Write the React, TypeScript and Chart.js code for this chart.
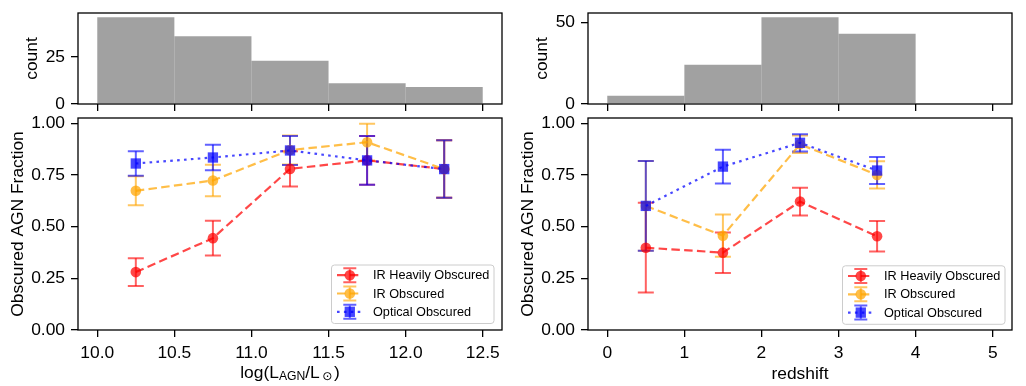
import React, { useEffect, useRef } from "react";
import { Chart, registerables } from "chart.js";

Chart.register(...registerables);

const FONT = "'Liberation Sans', Arial, 'DejaVu Sans', sans-serif";

// ---------- data ----------
const LUM_BIN_CENTERS = [10.25, 10.75, 11.25, 11.75, 12.25];
const LUM_COUNTS = [46, 36, 23, 11, 9];
const Z_BIN_CENTERS = [0.5, 1.5, 2.5, 3.5, 4.5];
const Z_COUNTS = [5, 24, 53, 43, 0];

const LUM_X = [10.25, 10.75, 11.25, 11.75, 12.25];
const LUM_IRH = [0.28, 0.444, 0.779, 0.82, 0.778];
const LUM_IRH_ERR = [0.067, 0.084, 0.085, 0.118, 0.139];
const LUM_IR = [0.673, 0.723, 0.87, 0.908, 0.778];
const LUM_IR_ERR = [0.07, 0.076, 0.07, 0.089, 0.139];
const LUM_OPT = [0.805, 0.834, 0.868, 0.82, 0.778];
const LUM_OPT_ERR = [0.059, 0.062, 0.07, 0.118, 0.139];

const Z_X = [0.5, 1.5, 2.5, 3.5];
const Z_IRH = [0.398, 0.374, 0.621, 0.453];
const Z_IRH_ERR = [0.217, 0.098, 0.067, 0.074];
const Z_IR = [0.6, 0.456, 0.898, 0.75];
const Z_IR_ERR = [0.217, 0.102, 0.042, 0.066];
const Z_OPT = [0.6, 0.79, 0.905, 0.771];
const Z_OPT_ERR = [0.217, 0.082, 0.042, 0.065];

const LUM_TICKS = [10.0, 10.5, 11.0, 11.5, 12.0, 12.5];
const Z_TICKS = [0, 1, 2, 3, 4, 5];
const FRAC_TICKS = [0, 0.25, 0.5, 0.75, 1.0];
const LUM_COUNT_TICKS = [0, 25];
const Z_COUNT_TICKS = [0, 50];

const SERIES_LABELS = ["IR Heavily Obscured", "IR Obscured", "Optical Obscured"];
const Y_LABEL_MAIN = "Obscured AGN Fraction";
const Y_LABEL_HIST = "count";
const X_LABEL_LUM = [
  { t: "log(L" },
  { t: "AGN", sub: true },
  { t: "/L" },
  { t: "\u2299", sub: true, gapBefore: 2.5, gapAfter: 1.5 },
  { t: ")" },
];
const X_LABEL_Z = [{ t: "redshift" }];

// ---------- styles ----------
const TICK_FONT_SIZE = 17.4;
const LEGEND_FONT_SIZE = 12.7;
const ALPHA = 0.72;
const SERIES_STYLE = [
  { rgb: "255,0,0", dash: [8.5, 4.3], point: "circle", radius: 5.3 },
  { rgb: "255,165,0", dash: [8.5, 4.3], point: "circle", radius: 5.3 },
  { rgb: "0,0,255", dash: [2.6, 4.3], point: "rect", radius: 7.3 },
];
const HIST_COLOR = "rgba(128,128,128,0.74)";

const zeroPad = (s: any) => {
  s.paddingTop = 0;
  s.paddingBottom = 0;
  s.paddingLeft = 0;
  s.paddingRight = 0;
};

const GRID = {
  display: true,
  drawOnChartArea: false,
  drawTicks: true,
  tickLength: 7,
  color: "#000",
  lineWidth: 1.3,
  offset: false,
};

function setTicks(values: number[]) {
  return (s: any) => {
    s.ticks = values.map((v) => ({ value: v }));
  };
}

function drawRich(ctx: CanvasRenderingContext2D, segs: any[], cx: number, baseY: number) {
  const big = `${TICK_FONT_SIZE}px ${FONT}`;
  const small = `${TICK_FONT_SIZE * 0.7}px ${FONT}`;
  let total = 0;
  const widths = segs.map((s) => {
    ctx.font = s.sub ? small : big;
    const w = ctx.measureText(s.t).width + (s.gapBefore || 0) + (s.gapAfter || 0);
    total += w;
    return w;
  });
  let x = cx - total / 2;
  ctx.textAlign = "left";
  ctx.textBaseline = "alphabetic";
  segs.forEach((s, i) => {
    ctx.font = s.sub ? small : big;
    ctx.fillText(s.t, x + (s.gapBefore || 0), baseY + (s.sub ? 2.6 : 0));
    x += widths[i];
  });
}

function drawMarker(ctx: CanvasRenderingContext2D, kind: string, r: number, x: number, y: number) {
  ctx.beginPath();
  if (kind === "rect") {
    const h = r * Math.SQRT1_2;
    ctx.rect(x - h, y - h, 2 * h, 2 * h);
  } else {
    ctx.arc(x, y, r, 0, Math.PI * 2);
  }
  ctx.fill();
}

const mplPlugin = {
  id: "mpl",
  beforeDatasetsDraw(chart: any) {
    const o = chart.options.plugins.mpl;
    if (!o || !o.errorBars) return;
    const ctx = chart.ctx;
    const xs = chart.scales.x;
    const ys = chart.scales.y;
    ctx.save();
    ctx.beginPath();
    ctx.rect(chart.chartArea.left, chart.chartArea.top, chart.chartArea.width, chart.chartArea.height);
    ctx.clip();
    chart.data.datasets.forEach((ds: any) => {
      if (!ds.errors) return;
      ctx.strokeStyle = ds.errColor;
      ctx.lineWidth = 2;
      ctx.setLineDash([]);
      ds.data.forEach((p: any, i: number) => {
        const x = xs.getPixelForValue(p.x);
        const yHi = ys.getPixelForValue(p.y + ds.errors[i]);
        const yLo = ys.getPixelForValue(p.y - ds.errors[i]);
        ctx.beginPath();
        ctx.moveTo(x, yHi);
        ctx.lineTo(x, yLo);
        ctx.stroke();
        ctx.beginPath();
        ctx.moveTo(x - 8, yHi);
        ctx.lineTo(x + 8, yHi);
        ctx.moveTo(x - 8, yLo);
        ctx.lineTo(x + 8, yLo);
        ctx.stroke();
      });
    });
    ctx.restore();
  },
  afterDatasetsDraw(chart: any) {
    const o = chart.options.plugins.mpl || {};
    const ctx = chart.ctx;
    const ca = chart.chartArea;
    ctx.save();
    ctx.strokeStyle = "#000";
    ctx.lineWidth = 1.3;
    ctx.setLineDash([]);
    ctx.strokeRect(ca.left, ca.top, ca.right - ca.left, ca.bottom - ca.top);
    if (o.legend) {
      const w = 162.5;
      const h = 58.5;
      const bx = ca.right - o.legend.right - w;
      const by = ca.bottom - o.legend.bottom - h;
      ctx.beginPath();
      ctx.roundRect(bx, by, w, h, 3);
      ctx.fillStyle = "rgba(255,255,255,0.8)";
      ctx.fill();
      ctx.strokeStyle = "#cccccc";
      ctx.lineWidth = 1;
      ctx.stroke();
      chart.data.datasets.forEach((ds: any, i: number) => {
        const cy = by + 10.2 + i * 18.3;
        const x0 = bx + 5.5;
        const x1 = bx + 31;
        const mx = bx + 18.3;
        ctx.strokeStyle = ds.borderColor;
        ctx.lineWidth = ds.borderWidth;
        ctx.setLineDash(ds.borderDash);
        ctx.beginPath();
        ctx.moveTo(x0, cy);
        ctx.lineTo(x1, cy);
        ctx.stroke();
        ctx.setLineDash([]);
        ctx.strokeStyle = ds.errColor;
        ctx.lineWidth = 2;
        ctx.beginPath();
        ctx.moveTo(mx, cy - 7);
        ctx.lineTo(mx, cy + 7);
        ctx.moveTo(mx - 6.5, cy - 7);
        ctx.lineTo(mx + 6.5, cy - 7);
        ctx.moveTo(mx - 6.5, cy + 7);
        ctx.lineTo(mx + 6.5, cy + 7);
        ctx.stroke();
        ctx.fillStyle = ds.pointBackgroundColor;
        drawMarker(ctx, ds.pointStyle, ds.pointRadius, mx, cy);
        ctx.fillStyle = "#000";
        ctx.font = `${LEGEND_FONT_SIZE}px ${FONT}`;
        ctx.textAlign = "left";
        ctx.textBaseline = "middle";
        ctx.fillText(ds.label, bx + 41.5, cy + 0.5);
      });
    }
    ctx.restore();
  },
  afterDraw(chart: any) {
    const o = chart.options.plugins.mpl || {};
    const ctx = chart.ctx;
    const ca = chart.chartArea;
    ctx.save();
    ctx.fillStyle = "#000";
    if (o.yTitle) {
      ctx.save();
      ctx.translate(ca.left - o.yTitle.offset, (ca.top + ca.bottom) / 2);
      ctx.rotate(-Math.PI / 2);
      ctx.font = `${TICK_FONT_SIZE}px ${FONT}`;
      ctx.textAlign = "center";
      ctx.textBaseline = "alphabetic";
      ctx.fillText(o.yTitle.text, 0, 0);
      ctx.restore();
    }
    if (o.xTitle) {
      drawRich(ctx, o.xTitle.segs, (ca.left + ca.right) / 2, ca.bottom + o.xTitle.offset);
    }
    ctx.restore();
  },
};

Chart.register(mplPlugin as any);

function baseScale(extra: any) {
  return {
    type: "linear",
    bounds: "data",
    offset: false,
    grid: GRID,
    border: { display: false },
    ...extra,
    ticks: {
      color: "#000",
      font: { family: FONT, size: TICK_FONT_SIZE },
      padding: 6,
      autoSkip: false,
      maxRotation: 0,
      minRotation: 0,
      ...(extra.ticks || {}),
    },
  };
}

function histConfig(
  centers: number[],
  counts: number[],
  xMin: number,
  xMax: number,
  xTicks: number[],
  yMax: number,
  yTicks: number[],
  padRight: number
): any {
  return {
    type: "bar",
    data: {
      datasets: [
        {
          data: centers.map((c, i) => ({ x: c, y: counts[i] })),
          backgroundColor: HIST_COLOR,
          borderWidth: 0,
          inflateAmount: 0,
          barPercentage: 1,
          categoryPercentage: 1,
        },
      ],
    },
    options: {
      responsive: false,
      animation: false,
      devicePixelRatio: 1,
      events: [],
      layout: { padding: { top: 13, right: padRight, bottom: 0, left: 0 } },
      plugins: {
        legend: { display: false },
        tooltip: { enabled: false },
        mpl: { yTitle: { text: Y_LABEL_HIST, offset: 40.7 } },
      },
      scales: {
        x: baseScale({
          min: xMin,
          max: xMax,
          ticks: { display: false },
          afterBuildTicks: setTicks(xTicks),
          afterFit: (s: any) => {
            s.height = 12;
            zeroPad(s);
          },
        }),
        y: baseScale({
          min: 0,
          max: yMax,
          ticks: { callback: (v: any) => String(v) },
          afterBuildTicks: setTicks(yTicks),
          afterFit: (s: any) => {
            s.width = 78;
            zeroPad(s);
          },
        }),
      },
    },
  };
}

function mainConfig(
  xs: number[],
  series: number[][],
  errors: number[][],
  xMin: number,
  xMax: number,
  xTicks: number[],
  xFmt: (v: number) => string,
  xTitle: any[],
  xTitleOffset: number,
  padRight: number,
  legendPos: { right: number; bottom: number }
): any {
  return {
    type: "line",
    data: {
      datasets: series.map((ys, k) => {
        const st = SERIES_STYLE[k];
        const col = `rgba(${st.rgb},${ALPHA})`;
        return {
          label: SERIES_LABELS[k],
          data: xs.map((x, i) => ({ x, y: ys[i] })),
          borderColor: col,
          borderWidth: 2.2,
          borderDash: st.dash,
          pointStyle: st.point,
          pointRadius: st.radius,
          pointBackgroundColor: col,
          pointBorderWidth: 0,
          pointHoverRadius: st.radius,
          fill: false,
          tension: 0,
          order: 3 - k,
          errors: errors[k],
          errColor: `rgba(${st.rgb},0.62)`,
        };
      }),
    },
    options: {
      responsive: false,
      animation: false,
      devicePixelRatio: 1,
      events: [],
      layout: { padding: { top: 12, right: padRight, bottom: 0, left: 0 } },
      plugins: {
        legend: { display: false },
        tooltip: { enabled: false },
        mpl: {
          errorBars: true,
          legend: legendPos,
          yTitle: { text: Y_LABEL_MAIN, offset: 55.3 },
          xTitle: { segs: xTitle, offset: xTitleOffset },
        },
      },
      scales: {
        x: baseScale({
          min: xMin,
          max: xMax,
          ticks: { callback: (v: any) => xFmt(Number(v)) },
          afterBuildTicks: setTicks(xTicks),
          afterFit: (s: any) => {
            s.height = 56;
            zeroPad(s);
          },
        }),
        y: baseScale({
          min: 0,
          max: 1.025,
          ticks: { callback: (v: any) => Number(v).toFixed(2) },
          afterBuildTicks: setTicks(FRAC_TICKS),
          afterFit: (s: any) => {
            s.width = 78;
            zeroPad(s);
          },
        }),
      },
    },
  };
}

export default function App() {
  const r1 = useRef<HTMLCanvasElement>(null);
  const r2 = useRef<HTMLCanvasElement>(null);
  const r3 = useRef<HTMLCanvasElement>(null);
  const r4 = useRef<HTMLCanvasElement>(null);

  useEffect(() => {
    Chart.defaults.font.family = FONT;
    Chart.defaults.color = "#000";
    const charts = [
      new Chart(
        r1.current!,
        histConfig(LUM_BIN_CENTERS, LUM_COUNTS, 9.875, 12.625, LUM_TICKS, 48.3, LUM_COUNT_TICKS, 8)
      ),
      new Chart(
        r2.current!,
        mainConfig(
          LUM_X,
          [LUM_IRH, LUM_IR, LUM_OPT],
          [LUM_IRH_ERR, LUM_IR_ERR, LUM_OPT_ERR],
          9.875,
          12.625,
          LUM_TICKS,
          (v) => v.toFixed(1),
          X_LABEL_LUM,
          47.5,
          8,
          { right: 8, bottom: 6.5 }
        )
      ),
      new Chart(
        r3.current!,
        histConfig(Z_BIN_CENTERS, Z_COUNTS, -0.25, 5.25, Z_TICKS, 55.65, Z_COUNT_TICKS, 14)
      ),
      new Chart(
        r4.current!,
        mainConfig(
          Z_X,
          [Z_IRH, Z_IR, Z_OPT],
          [Z_IRH_ERR, Z_IR_ERR, Z_OPT_ERR],
          -0.25,
          5.25,
          Z_TICKS,
          (v) => String(v),
          X_LABEL_Z,
          49,
          14,
          { right: 7, bottom: 5.7 }
        )
      ),
    ];
    return () => charts.forEach((c) => c.destroy());
  }, []);

  const abs = (left: number, top: number): React.CSSProperties => ({
    position: "absolute",
    left,
    top,
  });

  return (
    <div
      style={{
        position: "absolute",
        left: 0,
        top: 0,
        width: 1026,
        height: 386,
        background: "#fff",
        overflow: "hidden",
      }}
    >
      <canvas ref={r1} width={510} height={116} style={abs(0, 0)} />
      <canvas ref={r2} width={510} height={280} style={abs(0, 106)} />
      <canvas ref={r3} width={516} height={116} style={abs(510, 0)} />
      <canvas ref={r4} width={516} height={280} style={abs(510, 106)} />
    </div>
  );
}
